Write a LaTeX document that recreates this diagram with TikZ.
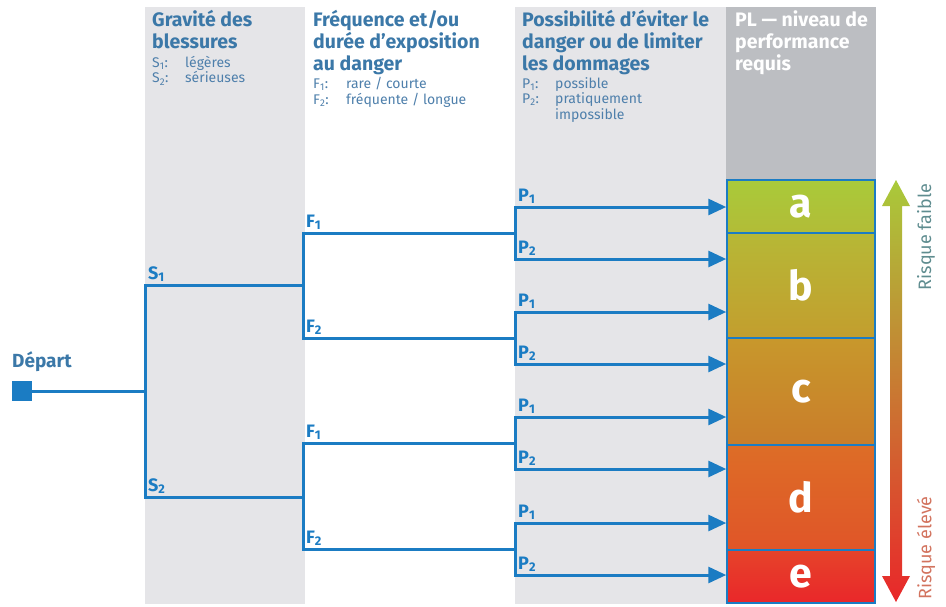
\documentclass[tikz,border=0pt]{standalone}
\usepackage{fontspec}
\setmainfont{Fira Sans}
\usetikzlibrary{arrows.meta}
\definecolor{linec}{HTML}{1B7CC3}
\definecolor{headc}{HTML}{3B78A8}
\definecolor{subc}{HTML}{4E7FAB}
\definecolor{colgray}{HTML}{E5E5E8}
\definecolor{plgray}{HTML}{BCBEC2}
\definecolor{faiblec}{HTML}{5E8C8F}
\definecolor{elevec}{HTML}{D2735E}
\definecolor{atop}{HTML}{A9CA3A}
\definecolor{abot}{HTML}{B2BC37}
\definecolor{btop}{HTML}{B6B836}
\definecolor{bbot}{HTML}{C39E2E}
\definecolor{ctop}{HTML}{C8982C}
\definecolor{cbot}{HTML}{C97D2A}
\definecolor{dtop}{HTML}{DD6D27}
\definecolor{dbot}{HTML}{E05528}
\definecolor{etop}{HTML}{E6432A}
\definecolor{ebot}{HTML}{E9272A}
\definecolor{rmid}{HTML}{C98A2D}
\tikzset{
  tree/.style={linec, line width=3pt},
  arr/.style={tree, {Triangle[length=18pt,width=16pt]}-{Triangle[length=18pt,width=16pt]}},
  lbl/.style={anchor=south west, inner sep=3pt, text=linec, font=\bfseries\fontsize{18}{20}\selectfont},
  hd/.style={anchor=north west, inner sep=0pt, align=left, text=headc, font=\bfseries\fontsize{19.5}{22}\selectfont},
  sub/.style={anchor=north west, inner sep=0pt, align=left, text=subc, font=\fontsize{14}{15.5}\selectfont},
  plbox/.style={draw=linec, line width=1.5pt, minimum width=148pt, text=white, inner sep=0pt, font=\bfseries\fontsize{41}{41}\selectfont},
  risk/.style={rotate=90, inner sep=0pt, font=\fontsize{18}{18}\selectfont},
}
\begin{document}
\begin{tikzpicture}[x=1pt,y=-1pt]
\useasboundingbox (0,0) rectangle (946,606);
% column backgrounds
\fill[colgray] (145,7) rectangle (305,604);
\fill[colgray] (515,7) rectangle (726,604);
\fill[plgray] (726,7) rectangle (876,180);

% headers
\node[hd] (hs) at (152,10) {Gravité des\\blessures};
\node[sub] (ls) at (152,56) {\makebox[33pt][l]{S\textsubscript{1}:}légères\\\makebox[33pt][l]{S\textsubscript{2}:}sérieuses};
\node[hd] (hf) at (313,10) {Fréquence et/ou\\durée d’exposition\\au danger};
\node[sub] (lf) at (313,77) {\makebox[33pt][l]{F\textsubscript{1}:}rare / courte\\\makebox[33pt][l]{F\textsubscript{2}:}fréquente / longue};
\node[hd] (hp) at (522,10) {Possibilité d’éviter le\\danger ou de limiter\\les dommages};
\node[sub] (lp) at (522,77) {\makebox[33pt][l]{P\textsubscript{1}:}possible\\\makebox[33pt][l]{P\textsubscript{2}:}pratiquement\\\makebox[33pt][l]{}impossible};
\node[hd, text=white] (hl) at (735,10) {PL — niveau de\\performance\\requis};

% PL boxes
\node[plbox, minimum height=53pt, top color=atop, bottom color=abot] (a) at (801,206.5) {a};
\node[plbox, minimum height=105pt, top color=btop, bottom color=bbot] (b) at (801,285.5) {b};
\node[plbox, minimum height=107pt, top color=ctop, bottom color=cbot] (c) at (801,391.5) {c};
\node[plbox, minimum height=105pt, top color=dtop, bottom color=dbot] (d) at (801,497.5) {d};
\node[plbox, minimum height=53pt, top color=etop, bottom color=ebot] (e) at (801,576.5) {e};

% risk arrow
\shade[top color=atop, middle color=rmid, bottom color=ebot]
  (890,206) -- (882,206) -- (896,180) -- (910,206) -- (902,206) -- (902,576)
  -- (910,576) -- (896,602) -- (882,576) -- (890,576) -- cycle;
\node[risk, text=faiblec] (rf) at (926,237) {Risque faible};
\node[risk, text=elevec] (re) at (926,548) {Risque élevé};

% tree
\node[fill=linec, minimum size=20pt, inner sep=0pt] (dep) at (22,391) {};
\node[anchor=base west, inner sep=0pt, text=headc, font=\bfseries\fontsize{19}{20}\selectfont] (deplbl) at (12,367) {Départ};
\coordinate (j0) at (145,391);
\coordinate (s1) at (145,285);
\coordinate (s2) at (145,497);
\coordinate (j1) at (303,285);
\coordinate (j2) at (303,497);
\coordinate (f11) at (303,233);
\coordinate (f12) at (303,338);
\coordinate (f21) at (303,443);
\coordinate (f22) at (303,549);
\coordinate (k11) at (515,233);
\coordinate (k12) at (515,338);
\coordinate (k21) at (515,443);
\coordinate (k22) at (515,549);
\coordinate (p111) at (515,207);
\coordinate (p112) at (515,259);
\coordinate (p121) at (515,312);
\coordinate (p122) at (515,364);
\coordinate (p211) at (515,417);
\coordinate (p212) at (515,469);
\coordinate (p221) at (515,523);
\coordinate (p222) at (515,575);

\draw[tree] (dep) -- (j0);
\draw[tree] (j1) -- (s1) -- (s2) -- (j2);
\draw[tree] (k11) -- (f11) -- (f12) -- (k12);
\draw[tree] (k21) -- (f21) -- (f22) -- (k22);
\draw[arr] (p111 -| a.west) -- (p111) |- (p112 -| b.west);
\draw[arr] (p121 -| b.west) -- (p121) |- (p122 -| c.west);
\draw[arr] (p211 -| c.west) -- (p211) |- (p212 -| d.west);
\draw[arr] (p221 -| d.west) -- (p221) |- (p222 -| e.west);

% branch labels
\node[lbl] at (s1) {S\textsubscript{1}};
\node[lbl] at (s2) {S\textsubscript{2}};
\node[lbl] at (f11) {F\textsubscript{1}};
\node[lbl] at (f12) {F\textsubscript{2}};
\node[lbl] at (f21) {F\textsubscript{1}};
\node[lbl] at (f22) {F\textsubscript{2}};
\foreach \p in {p111,p121,p211,p221} \node[lbl] at (\p) {P\textsubscript{1}};
\foreach \p in {p112,p122,p212,p222} \node[lbl] at (\p) {P\textsubscript{2}};
\end{tikzpicture}
\end{document}
